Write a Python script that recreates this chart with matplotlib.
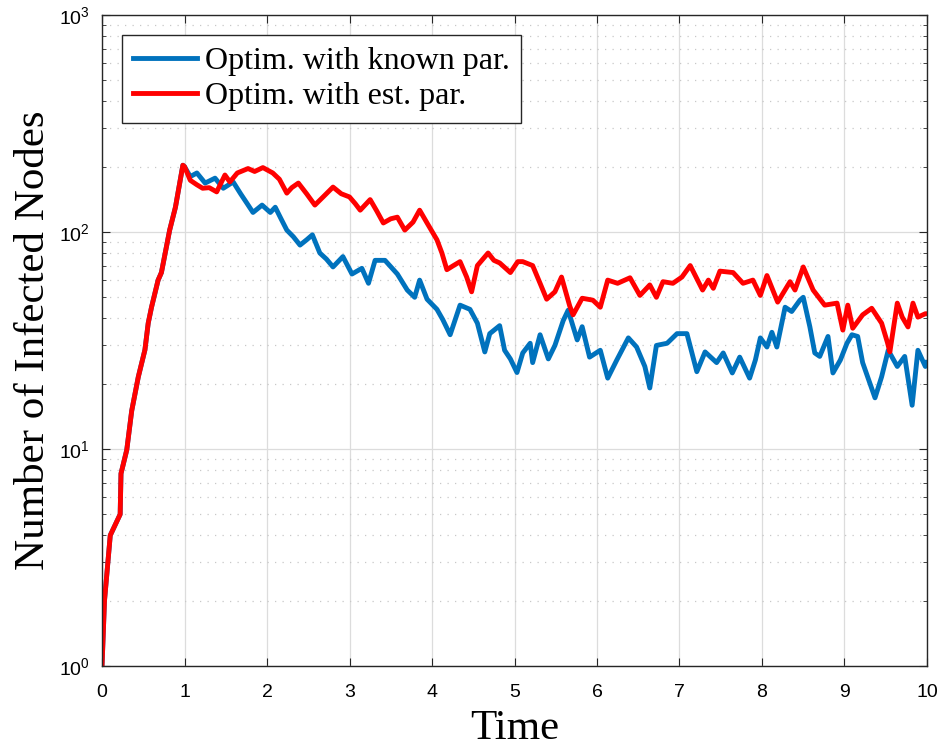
import matplotlib.pyplot as plt
from matplotlib.ticker import LogLocator, NullFormatter

plt.rcParams['font.family'] = ['Liberation Sans', 'DejaVu Sans']
plt.rcParams['mathtext.fontset'] = 'custom'
plt.rcParams['mathtext.rm'] = 'Liberation Sans'
plt.rcParams['mathtext.it'] = 'Liberation Sans'

# shared start (both runs identical until t = 1)
t_start = [0, 0.03, 0.1, 0.22, 0.23, 0.3, 0.36, 0.44, 0.52, 0.56, 0.6, 0.68,
           0.72, 0.82, 0.89, 0.98, 1.0]
n_start = [1, 2, 4, 5, 7.7, 9.9, 15, 21.5, 28.6, 38, 45, 60,
           65, 102, 130, 203, 200]

t_known = t_start + [1.07, 1.15, 1.25, 1.37, 1.47, 1.59, 1.68, 1.76, 1.83, 1.94,
                     2.04, 2.1, 2.17, 2.24, 2.32, 2.4, 2.48, 2.55, 2.64, 2.72,
                     2.8, 2.92, 3.03, 3.15, 3.23, 3.31, 3.43, 3.58, 3.7, 3.79,
                     3.85, 3.94, 4.06, 4.13, 4.22, 4.34, 4.46, 4.55, 4.64, 4.7,
                     4.82, 4.88, 4.95, 5.03, 5.1, 5.19, 5.22, 5.31, 5.41, 5.49,
                     5.59, 5.65, 5.76, 5.82, 5.91, 6.04, 6.13, 6.24, 6.38, 6.48,
                     6.58, 6.64, 6.72, 6.85, 6.97, 7.09, 7.21, 7.31, 7.45, 7.53,
                     7.64, 7.73, 7.85, 7.92, 7.98, 8.06, 8.12, 8.18, 8.28, 8.36,
                     8.46, 8.5, 8.58, 8.64, 8.7, 8.8, 8.86, 8.95, 9.03, 9.09,
                     9.16, 9.22, 9.37, 9.45, 9.53, 9.64, 9.73, 9.82, 9.89, 9.98, 10]
n_known = n_start + [180, 187, 168, 177, 159, 170, 150, 135, 123, 133,
                     123, 130, 115, 102, 95, 87, 92, 97, 80, 75,
                     69, 77, 64, 68, 58, 74, 74, 64, 54, 50,
                     60, 49, 44, 39.5, 33.6, 46, 44, 38, 28, 34,
                     37, 28.5, 26, 22.5, 27.7, 30.7, 25, 33.6, 26, 30,
                     39, 43.6, 31.8, 36.6, 26.5, 28.5, 21.2, 25.7, 32.5, 29.5,
                     24, 19.1, 30, 30.7, 34, 34, 22.7, 28, 25, 27.7,
                     22.4, 26.5, 21.2, 25.7, 32.5, 29.5, 34.5, 29.5, 45, 43,
                     48.5, 50, 36.6, 27.7, 26.7, 33, 22.4, 25.7, 30.7, 33.6,
                     33, 25, 17.2, 21.5, 28.5, 24, 26.7, 15.9, 28.5, 24, 25]

t_est = t_start + [1.07, 1.15, 1.22, 1.3, 1.39, 1.49, 1.55, 1.64, 1.77, 1.85,
                   1.95, 2.07, 2.15, 2.24, 2.3, 2.38, 2.48, 2.58, 2.68, 2.8,
                   2.9, 3.0, 3.07, 3.13, 3.25, 3.33, 3.41, 3.5, 3.58, 3.67,
                   3.77, 3.85, 3.94, 4.06, 4.12, 4.18, 4.26, 4.34, 4.42, 4.48,
                   4.55, 4.68, 4.75, 4.82, 4.95, 5.04, 5.1, 5.22, 5.31, 5.39,
                   5.49, 5.57, 5.67, 5.71, 5.82, 5.95, 6.04, 6.13, 6.25, 6.4,
                   6.52, 6.64, 6.72, 6.8, 6.92, 7.03, 7.13, 7.28, 7.35, 7.41,
                   7.49, 7.65, 7.77, 7.89, 7.98, 8.06, 8.19, 8.34, 8.4, 8.5,
                   8.62, 8.76, 8.91, 8.98, 9.04, 9.1, 9.22, 9.33, 9.45, 9.52,
                   9.55, 9.64, 9.7, 9.77, 9.83, 9.89, 9.98, 10]
n_est = n_start + [173, 165, 159, 160, 153, 183, 170, 187, 196, 190,
                   198, 187, 175, 151, 160, 168, 150, 133, 145, 161,
                   150, 145, 135, 126, 141, 125, 110, 115, 117, 102,
                   111, 126, 110, 92, 80, 67, 70, 73, 62, 53,
                   70, 80, 74, 72, 65, 73, 73, 70, 58, 49,
                   53, 62, 45.5, 41.5, 49.5, 48.5, 45, 60, 58, 61.5,
                   51, 57, 50, 59, 58, 62, 70, 54, 60, 55,
                   66, 65, 58, 60, 51, 63, 47.5, 59, 54, 69,
                   54, 46, 47, 35.3, 46, 36, 41.5, 44.5, 38, 31,
                   28, 47, 40.5, 36.5, 47, 40.5, 42, 42]

fig = plt.figure(figsize=(9.49, 7.52), dpi=100)
ax = fig.add_axes([0.1075, 0.1144, 0.8693, 0.8657])

ax.plot(t_known, n_known, color='#0072BD', linewidth=3.5, label='Optim. with known par.')
ax.plot(t_est, n_est, color='#FF0000', linewidth=3.5, label='Optim. with est. par.')

ax.set_yscale('log')
ax.set_xlim(0, 10)
ax.set_ylim(1, 1000)
ax.set_xticks(range(11))
ax.yaxis.set_major_locator(LogLocator(base=10, numticks=10))
ax.yaxis.set_minor_locator(LogLocator(base=10, subs=range(2, 10), numticks=20))
ax.yaxis.set_minor_formatter(NullFormatter())

ax.grid(True, which='major', color='#dcdcdc', linewidth=0.9)
ax.grid(True, which='minor', axis='y', color='#c8c8c8', linestyle=(0, (1, 5)), linewidth=0.9)
ax.set_axisbelow(True)

ax.tick_params(which='both', direction='in', top=True, right=True, colors='#262626',
               labelsize=14, labelcolor='black')
ax.tick_params(which='major', length=6)
ax.tick_params(axis='y', which='major', pad=9)
ax.tick_params(axis='x', which='major', pad=13)
ax.tick_params(which='minor', length=3)
for s in ax.spines.values():
    s.set_color('#262626')
    s.set_linewidth(1.0)

ax.set_xlabel('Time', family='Liberation Serif', fontsize=31, labelpad=6)
ax.set_ylabel('Number of Infected Nodes', family='Liberation Serif', fontsize=31, labelpad=4)

leg = ax.legend(loc='upper left', bbox_to_anchor=(0.024, 0.969), borderaxespad=0,
                prop={'family': 'Liberation Serif', 'size': 23}, fancybox=False,
                edgecolor='#262626', framealpha=1, handlelength=2.0, handletextpad=0.25,
                labelspacing=0.2, borderpad=0.35)
leg.get_frame().set_linewidth(1.0)

fig.savefig('out.png', dpi=100)
